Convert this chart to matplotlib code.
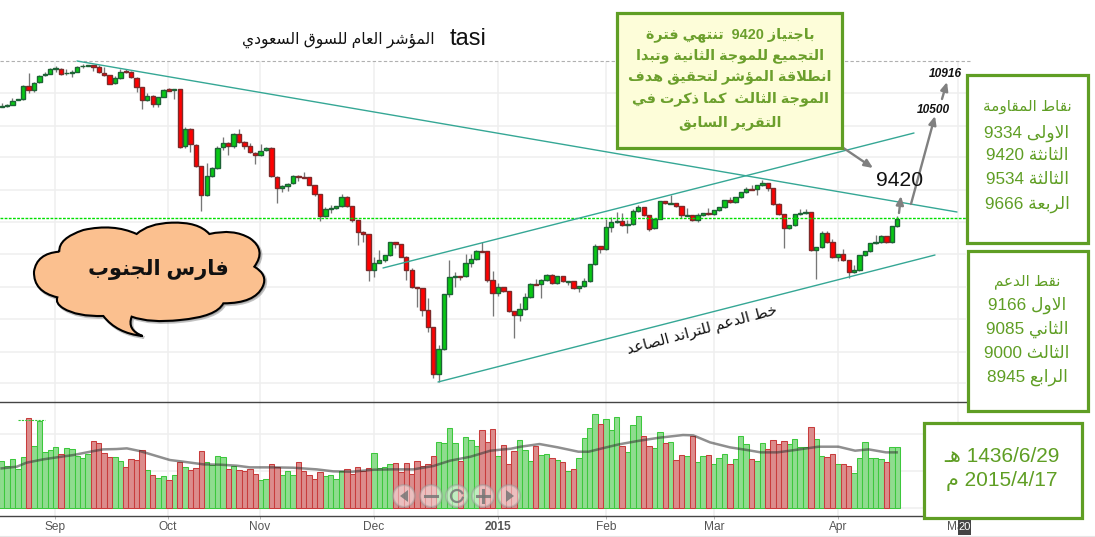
import re
import numpy as np
import matplotlib
matplotlib.use("Agg")
import matplotlib.pyplot as plt
from matplotlib.path import Path
from matplotlib.patches import PathPatch, Rectangle, Circle, Polygon

# ---- data (price in chart units, volume in chart units) ----
opens = [878,881,884,899,902,943,929,953,974,977,
         994,994,980,982,983,1001,1002,1005,998,982,
         974,950,965,986,983,967,938,899,911,887,
         908,932,929,932,761,814,766,701,614,671,
         695,758,772,763,799,773,763,742,734,749,
         757,670,635,641,650,673,668,668,646,617,
         551,572,575,581,608,581,539,503,497,391,
         412,419,434,473,467,430,391,338,335,269,
         218,77,152,317,368,371,371,410,422,446,
         446,359,320,338,326,266,254,272,308,347,
         347,359,374,350,371,355,356,335,341,356,
         407,461,452,518,533,536,526,527,566,578,
         554,515,544,596,589,590,581,553,554,539,
         554,560,557,569,578,599,593,608,623,632,
         632,644,650,635,587,557,515,524,557,560,
         563,449,458,500,473,428,437,419,383,389,
         434,446,470,473,491,473,521]
closes = [881,884,898,902,943,929,952,973,977,994,
          995,979,982,983,1000,1002,1004,998,983,974,
          949,965,985,983,968,938,899,911,887,908,
          931,928,932,760,814,767,701,614,671,695,
          757,772,763,799,773,763,743,734,748,757,
          671,635,641,649,673,668,667,646,617,551,
          572,575,581,608,581,540,503,497,391,412,
          419,434,473,467,430,391,338,335,269,218,
          77,152,317,368,371,370,410,422,446,445,
          359,320,338,326,266,254,272,308,347,346,
          359,374,350,371,356,356,335,341,356,407,
          461,452,518,533,536,524,527,566,578,554,
          514,544,596,590,590,581,554,554,539,554,
          560,557,569,578,599,593,608,623,632,631,
          644,650,635,587,557,515,524,557,560,563,
          449,458,500,473,428,437,419,383,389,434,
          446,470,473,491,473,521,544]
highs = [892,887,905,904,945,980,953,974,983,995,
         1002,995,992,990,1001,1008,1005,1005,1004,998,
         975,972,992,992,988,968,939,922,914,909,
         932,936,933,933,820,815,767,702,710,698,
         762,788,773,800,812,778,770,743,767,758,
         758,671,645,650,674,674,683,669,646,617,
         578,584,582,617,612,582,540,507,498,429,
         450,435,474,474,468,431,395,339,336,305,
         219,165,318,420,383,372,438,438,450,473,
         447,387,350,339,327,267,290,322,350,362,
         362,378,378,372,372,357,357,342,365,408,
         468,462,542,548,563,560,540,572,586,579,
         555,545,597,597,614,591,582,575,555,562,
         561,575,570,579,600,608,609,624,640,644,
         645,660,651,636,592,558,525,558,572,572,
         564,459,508,506,482,438,453,420,406,435,
         447,471,495,494,492,522,552]
lows = [878,880,884,899,901,920,925,952,972,977,
        985,976,976,970,983,995,1001,988,981,973,
        947,949,964,982,967,925,873,898,880,880,
        908,927,904,756,755,745,700,568,613,670,
        694,750,735,757,772,754,742,708,733,748,
        670,590,625,628,649,658,667,645,613,537,
        550,562,574,580,580,535,465,474,357,369,
        411,415,433,456,429,360,337,279,252,204,
        65,53,151,310,340,360,370,399,421,444,
        355,253,313,325,265,187,237,271,307,345,
        307,358,349,349,355,345,334,325,340,355,
        406,442,451,505,532,523,502,526,565,553,
        508,514,543,589,588,580,545,552,538,535,
        553,556,556,568,577,592,592,607,622,630,
        614,643,626,586,556,457,512,523,556,559,
        448,362,457,472,427,418,418,365,382,388,
        433,445,469,472,472,472,520]
volumes = [139,126,145,116,151,268,184,261,166,172,
           181,160,178,175,154,148,160,199,193,163,
           151,151,139,121,145,142,172,112,97,88,
           94,82,97,136,121,112,118,169,136,129,
           154,151,115,124,112,109,115,100,82,85,
           130,121,97,109,97,136,109,97,85,106,
           94,97,85,109,115,100,121,109,118,163,
           118,121,130,133,106,133,100,139,124,130,
           154,196,193,238,193,139,211,202,184,232,
           196,235,154,187,130,169,202,172,139,184,
           157,160,148,142,136,109,115,148,208,238,
           280,250,265,232,271,184,166,247,274,214,
           184,178,226,193,196,142,157,154,214,136,
           154,157,130,148,160,130,145,214,190,145,
           139,193,175,202,190,199,190,205,181,181,
           241,205,154,151,160,130,130,124,103,148,
           196,148,148,145,136,181,181]
volume_up = ("ggggg r ggggg r ggggg rrrr gg rrrr g r gg r g r g rrr gggg r g rrrr gg rr ggg "
             "rrrrr gggg rrrrr gggg rrrrrrrr gggg "
             "r ggg rrr g rrr ggg r gg r g r g r gggg r ggg r ggg rr gg r g rr g r gg r ggg r "
             "ggg r gg rrrr gggg r gg rr g rr gggggg r gg").replace(" ", "")
ma_index = [0,2.8,4.6,7.7,10.2,13.3,16.4,18.8,21.3,23.2,25.6,28.7,31.2,33.7,37.4,40.5,43.6,46,
            50.4,54,58.4,61.5,65,69,72.6,76.3,80,83.1,86.9,90.6,94.4,96.2,99.7,103.1,106.9,
            108.8,111.3,114.4,118.2,121.9,126.3,128.2,131.3,135,138.2,140.7,143.8,147,151.4,
            155.1,158.2,160.7,163.9,165.9]
ma_values = [118,123,135,145,151,158,168,175,176,178,170,155,143,138,130,129,126,121,
             121,120,115,109,108,114,115,115,125,141,153,171,177,183,191,181,168,
             168,178,190,201,210,218,217,196,181,173,166,166,173,183,
             183,171,175,166,166]
month_pos = [9.9,30.8,47.9,69,92,112.1,132,155.1,177.3]
month_labels = ["Sep","Oct","Nov","Dec","2015","Feb","Mar","Apr","May"]
price_grid = [921,822,729,630,534,438,339,243,144,51]
volume_grid = [0,110,222]

FW, FH, AXW = 1095, 537, 966
G = "#5f9e24"
GRID = "#efefef"
LAT = ["Liberation Sans", "DejaVu Sans"]

# ---- small Arabic shaper: matplotlib does no shaping or bidi ----
_F = {"ء":(0xFE80,1),"آ":(0xFE81,2),"أ":(0xFE83,2),"ؤ":(0xFE85,2),"إ":(0xFE87,2),"ئ":(0xFE89,4),
      "ا":(0xFE8D,2),"ب":(0xFE8F,4),"ة":(0xFE93,2),"ت":(0xFE95,4),"ث":(0xFE99,4),"ج":(0xFE9D,4),
      "ح":(0xFEA1,4),"خ":(0xFEA5,4),"د":(0xFEA9,2),"ذ":(0xFEAB,2),"ر":(0xFEAD,2),"ز":(0xFEAF,2),
      "س":(0xFEB1,4),"ش":(0xFEB5,4),"ص":(0xFEB9,4),"ض":(0xFEBD,4),"ط":(0xFEC1,4),"ظ":(0xFEC5,4),
      "ع":(0xFEC9,4),"غ":(0xFECD,4),"ف":(0xFED1,4),"ق":(0xFED5,4),"ك":(0xFED9,4),"ل":(0xFEDD,4),
      "م":(0xFEE1,4),"ن":(0xFEE5,4),"ه":(0xFEE9,4),"و":(0xFEED,2),"ى":(0xFEEF,2),"ي":(0xFEF1,4)}
_LA = {"آ":0xFEF5,"أ":0xFEF7,"إ":0xFEF9,"ا":0xFEFB}
KASH = "ـ"

def _shape(s):
    toks, i = [], 0
    while i < len(s):
        if s[i] == "ل" and i + 1 < len(s) and s[i + 1] in _LA:
            toks.append(("la", _LA[s[i + 1]])); i += 2
        else:
            toks.append(("c", s[i])); i += 1
    def joins_next(t):
        return t[0] == "c" and (t[1] == KASH or (t[1] in _F and _F[t[1]][1] == 4))
    def arabic(t):
        return t[0] == "la" or t[1] == KASH or t[1] in _F
    out = []
    for k, t in enumerate(toks):
        prev = k > 0 and joins_next(toks[k - 1])
        nxt = k + 1 < len(toks) and arabic(toks[k + 1])
        if t[0] == "la":
            out.append(chr(t[1] + (1 if prev else 0)))
        elif t[1] in _F:
            base, n = _F[t[1]]
            if n == 4:
                out.append(chr(base + (3 if prev and nxt else 1 if prev else 2 if nxt else 0)))
            elif n == 2:
                out.append(chr(base + (1 if prev else 0)))
            else:
                out.append(chr(base))
        else:
            out.append(t[1])
    return "".join(out)

def ar(s):
    runs = re.findall(r"[0-9A-Za-z/.]+|[^0-9A-Za-z/.]+", _shape(s))
    return "".join(r if re.match(r"[0-9A-Za-z/.]", r) else r[::-1] for r in reversed(runs))

# ---- figure and panes ----
fig = plt.figure(figsize=(FW / 100, FH / 100), dpi=100, facecolor="white")
ax = fig.add_axes([0, 1 - 401.5 / FH, AXW / FW, 340.5 / FH])
vx = fig.add_axes([0, 1 - 515.7 / FH, AXW / FW, 114.2 / FH])
xlim = (-0.31, 178.75)
x = np.arange(len(opens))
o, h, l, c = map(np.array, (opens, highs, lows, closes))

ax.set_xlim(xlim); ax.set_ylim(-4.5, 1017)
ax.set_xticks([]); ax.set_yticks([])
for s in ax.spines.values(): s.set_visible(False)
for g in price_grid: ax.axhline(g, color=GRID, lw=1.1, zorder=0)
for m in month_pos: ax.axvline(m, color=GRID, lw=1.1, zorder=0)
ax.patch.set_alpha(0)

ax.vlines(x, l, h, color="#777777", lw=0.95, zorder=2)
up = c >= o
ax.bar(x[up], np.maximum(c - o, 1)[up], bottom=o[up], width=0.8,
       color="#08c814", edgecolor="#1d6336", lw=1.0, zorder=3)
ax.bar(x[~up], np.maximum(o - c, 1)[~up], bottom=c[~up], width=0.8,
       color="#ff0000", edgecolor="#7d2a2a", lw=1.0, zorder=3)

vx.set_xlim(xlim); vx.set_ylim(-24, 318.6)
for g in volume_grid: vx.axhline(g, color=GRID, lw=1.1, zorder=0)
for m in month_pos: vx.axvline(m, color=GRID, lw=1.1, zorder=0)
vcol = np.array(list(volume_up))
vv = np.array(volumes); xv = np.arange(len(vv))
vx.bar(xv[vcol == "g"], vv[vcol == "g"], width=1.0, color="#8fdc8f", edgecolor="#3cc83c", lw=0.75, zorder=2)
vx.bar(xv[vcol == "r"], vv[vcol == "r"], width=1.0, color="#dc8c8c", edgecolor="#c83c3c", lw=0.75, zorder=2)
vx.plot(ma_index, ma_values, color="#333333", alpha=0.55, lw=1.8, zorder=4)
for s in ("left", "right"): vx.spines[s].set_visible(False)
for s in ("top", "bottom"):
    vx.spines[s].set_color("#444444"); vx.spines[s].set_linewidth(1.0)
vx.set_yticks([])
vx.set_xticks(month_pos)
vx.set_xticklabels(month_labels, fontsize=8.6, color="#555555", family=LAT)
vx.tick_params(axis="x", length=2.5, width=0.6, color="#aaaaaa", pad=1.5)
for lab in vx.get_xticklabels():
    if lab.get_text() == "2015": lab.set_fontweight("bold")

# ---- overlay with drawn annotations, in reference pixels ----
ov = fig.add_axes([0, 0, 1, 1], zorder=10)
ov.set_xlim(0, FW); ov.set_ylim(FH, 0); ov.axis("off"); ov.patch.set_alpha(0)

ov.plot([0, 970], [60.5, 60.5], color="#b0b0b0", lw=0.8, ls=(0, (3, 2)))
ov.plot([0, 966], [218, 218], color="#00e000", lw=1.0, ls=(0, (2, 1)))
TEAL = "#35a795"
for (x0, y0, x1, y1) in [(77, 61, 957, 212), (383, 268, 914, 133), (438, 382, 935, 255)]:
    ov.plot([x0, x1], [y0, y1], color=TEAL, lw=1.0, solid_capstyle="round")

for (x0, y0, x1, y1) in [(842, 147, 873, 168), (899, 213, 901, 196), (911, 204, 935, 116), (942, 99, 947, 82)]:
    ov.annotate("", xy=(x1, y1), xytext=(x0, y0),
                arrowprops=dict(arrowstyle="-|>,head_width=0.22,head_length=0.5", color="#808080", lw=1.7,
                                shrinkA=0, shrinkB=0))

def box(x0, y0, x1, y1, fc="white"):
    ov.add_patch(Rectangle((x0, y0), x1 - x0, y1 - y0, fc=fc, ec=G, lw=2.3, zorder=5))

def txt(xc, yc, s, size, color=G, **kw):
    kw.setdefault("family", LAT)
    ov.text(xc, yc, ar(s), fontsize=size, color=color, ha="center", va="center", zorder=6, **kw)

# title
txt(468, 39, "tasi", 17, "#111111")
txt(338, 40, "المؤشر العام للسوق السعودي", 11.2, "#111111")
txt(900, 181, "9420", 15.2, "#111111")
txt(945, 74, "10916", 8.6, "#111111", fontweight="bold", style="italic")
txt(933, 110, "10500", 8.6, "#111111", fontweight="bold", style="italic")

# note box
box(617, 13, 842, 148, "#fdfdd9")
note_lines = ["باجتياز 9420  تنتهي فترة", "التجميع للموجة الثانية وتبدا", "انطلاقة المؤشر لتحقيق هدف",
              "الموجة الثالث  كما ذكرت في", "التقرير السابق"]
for yy, s in zip([35, 56, 77, 99, 123], note_lines):
    txt(730, yy, s, 10.4, "#6b9f2c", fontweight="bold")

# resistance box
box(967, 75, 1088, 243)
for yy, s, size in zip([107, 133, 156, 179, 204],
                       ["نقاط المقاومة", "الاولى 9334", "الثانثة 9420", "الثالثة 9534", "الربعة 9666"],
                       [11, 12.3, 12.3, 12.3, 12.3]):
    txt(1027, yy, s, size)
# support box
box(968, 251, 1088, 411)
for yy, s, size in zip([282, 305, 329, 353, 377],
                       ["نقط الدعم", "الاول 9166", "الثاني 9085", "الثالث 9000", "الرابع 8945"],
                       [11, 12.3, 12.3, 12.3, 12.3]):
    txt(1027, yy, s, size)
# date box
box(924, 423, 1082, 518)
txt(1002, 457, "1436/6/29 ه" + KASH, 15)
txt(1002, 481, "2015/4/17 م", 15)

# rotated trend label
ov.text(702, 330, ar("خط الدعم للتراند الصاعد"), fontsize=11, color="#111111", rotation=15,
        rotation_mode="anchor", ha="center", va="center", family=LAT, zorder=6)

# speech bubble
Z = lambda p: (20 + p[0] / 3, 210 + p[1] / 3)
start = (118, 125)
curve = [(115,85),(190,60),(280,40),(350,72),(385,40),(455,38),(535,35),(568,72),(640,55),(690,85),
         (740,120),(703,170),(745,195),(728,230),(705,280),(610,280),(590,320),(480,330),(390,340),(335,320),
         (320,360),(368,378),(290,370),(250,318),(170,320),(130,295),(105,280),(112,262),(40,245),(42,185),
         (50,130),(118,125)]
verts = [Z(start)] + [Z(p) for p in curve]
codes = [Path.MOVETO] + [Path.CURVE3] * len(curve)
shadow = np.array(verts) + [1.5, 1.5]
ov.add_patch(PathPatch(Path(shadow, codes), fc="#888888", ec="#888888", lw=2, alpha=0.5, zorder=4))
ov.add_patch(PathPatch(Path(verts, codes), fc="#fbc08f", ec="black", lw=1.5, zorder=5))
txt(158, 270, "فارس الجنوب", 15, "#111111", fontweight="bold")

# navigator buttons
centres = [404, 431, 457, 483, 509]
BY = 496
for cx in centres:
    ov.add_patch(Circle((cx, BY), 11, fc="#ffffff", alpha=0.45, ec="#999999", lw=1.6, zorder=7))
DK = "#777777"
ov.add_patch(Polygon([(400, BY), (408, BY - 6), (408, BY + 6)], fc=DK, ec="none", alpha=0.85, zorder=8))
ov.add_patch(Polygon([(514, BY), (506, BY - 6), (506, BY + 6)], fc=DK, ec="none", alpha=0.85, zorder=8))
ov.plot([425, 437], [BY, BY], color=DK, lw=2.2, alpha=0.85, zorder=8)
ov.plot([477, 489], [BY, BY], color=DK, lw=2.2, alpha=0.85, zorder=8)
ov.plot([483, 483], [BY - 6, BY + 6], color=DK, lw=2.2, alpha=0.85, zorder=8)
th = np.linspace(0.3, 2 * np.pi - 0.5, 40)
ov.plot(457 + 6 * np.cos(th), BY + 6 * np.sin(th), color=DK, lw=1.6, alpha=0.85, zorder=8)

# small scribble of the volume legend
ov.plot([18, 45], [420, 420], color="#35c835", lw=0.8, ls=(0, (2, 1)), zorder=6)

# date tag at the right end of the axis and bottom rule
ov.add_patch(Rectangle((958, 520), 13, 15, fc="#444444", ec="none", zorder=9))
ov.text(964.5, 527.5, "20", fontsize=8, color="white", ha="center", va="center", family=LAT, zorder=10)
ov.plot([0, 1095], [536, 536], color="#e6e6e6", lw=0.8)

fig.savefig("out.png", dpi=100)
